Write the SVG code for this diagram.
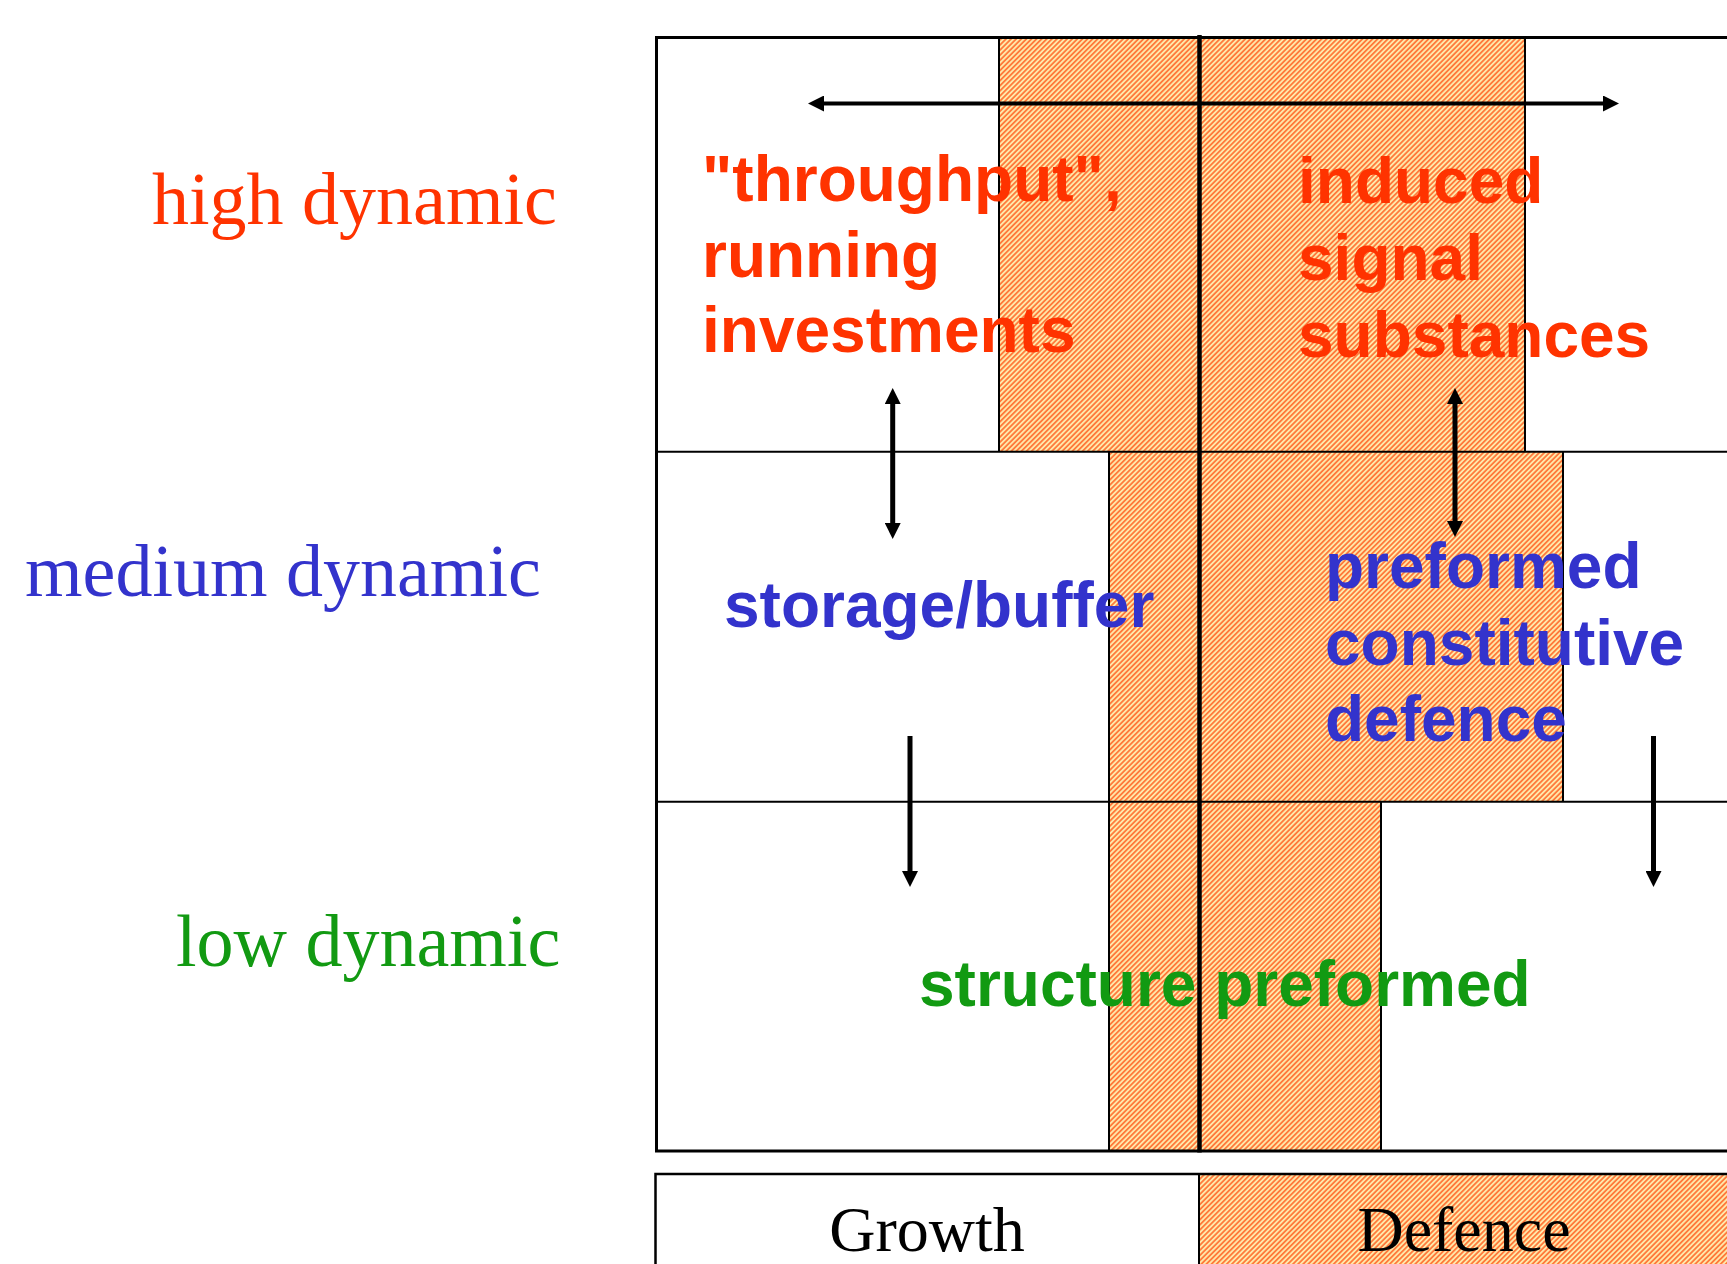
<svg xmlns="http://www.w3.org/2000/svg" width="1727" height="1264" viewBox="0 0 1727 1264">
<defs>
<pattern id="hatch" patternUnits="userSpaceOnUse" width="3.6" height="10" patternTransform="rotate(45)">
<rect width="3.6" height="10" fill="#FFE8AA"/>
<rect width="1.8" height="10" fill="#FF7A3C"/>
</pattern>
<marker id="ah" markerUnits="userSpaceOnUse" markerWidth="16" markerHeight="16" viewBox="0 0 16 16" refX="0" refY="8" orient="auto-start-reverse">
<path d="M0,0 L16,8 L0,16 z" fill="#000"/>
</marker>
<style>
.hatch{fill:url(#hatch);stroke:none}
.thin{stroke:#000;stroke-width:2;fill:none}
.frame{stroke:#000;stroke-width:3;fill:none}
.axis{stroke:#000;stroke-width:4.5}
.arrow{stroke:#000;stroke-width:4;fill:none}
.varrow{stroke:#000;stroke-width:5;fill:none}
.serif{font-family:"Liberation Serif","Times New Roman",serif;font-size:74px}
.legend{font-family:"Liberation Serif","Times New Roman",serif;font-size:64px;fill:#000;text-anchor:middle}
.bold{font-family:"Liberation Sans",Arial,sans-serif;font-size:64px;font-weight:bold}
.red{fill:#FF3300}
.blue{fill:#3333CC}
.green{fill:#129A12}
</style>
</defs>
<rect x="0" y="0" width="1727" height="1264" fill="#fff"/>

<g id="defence-areas">
<rect class="hatch" x="999" y="37.5" width="526" height="414"/>
<rect class="hatch" x="1109" y="451.7" width="454" height="350"/>
<rect class="hatch" x="1109" y="801.7" width="272" height="349.5"/>
</g>

<g id="grid">
<line class="thin" x1="656" y1="451.7" x2="1740" y2="451.7"/>
<line class="thin" x1="656" y1="801.7" x2="1740" y2="801.7"/>
<line class="thin" x1="999" y1="37.5" x2="999" y2="451.7"/>
<line class="thin" x1="1525" y1="37.5" x2="1525" y2="451.7"/>
<line class="thin" x1="1109" y1="451.7" x2="1109" y2="801.7"/>
<line class="thin" x1="1563" y1="451.7" x2="1563" y2="801.7"/>
<line class="thin" x1="1109" y1="801.7" x2="1109" y2="1151"/>
<line class="thin" x1="1381" y1="801.7" x2="1381" y2="1151"/>
<rect class="frame" x="656.5" y="37.5" width="1100" height="1113.5"/>
<line class="axis" x1="1199.5" y1="35" x2="1199.5" y2="1152.5"/>
</g>

<g id="row-labels">
<g id="label-high"><text class="serif red" x="152" y="224">high dynamic</text></g>
<g id="label-medium"><text class="serif blue" x="25" y="596">medium dynamic</text></g>
<g id="label-low"><text class="serif green" x="176" y="966">low dynamic</text></g>
</g>

<g id="node-throughput">
<text class="bold red" x="702" y="201">"throughput",</text>
<text class="bold red" x="702" y="277">running</text>
<text class="bold red" x="702" y="352">investments</text>
</g>
<g id="node-induced">
<text class="bold red" x="1298" y="203">induced</text>
<text class="bold red" x="1298" y="280">signal</text>
<text class="bold red" x="1298" y="357">substances</text>
</g>
<g id="node-storage">
<text class="bold blue" x="724" y="627">storage/buffer</text>
</g>
<g id="node-preformed">
<text class="bold blue" x="1325" y="588">preformed</text>
<text class="bold blue" x="1325" y="665">constitutive</text>
<text class="bold blue" x="1325" y="741">defence</text>
</g>
<g id="node-structure">
<text class="bold green" x="919" y="1006">structure preformed</text>
</g>

<g id="legend">
<rect class="hatch" x="1199" y="1174" width="560" height="100"/>
<rect x="655.5" y="1174" width="1100" height="120" fill="none" stroke="#000" stroke-width="2.5"/>
<line class="thin" x1="1199" y1="1174" x2="1199" y2="1270"/>
<g id="legend-growth"><text class="legend" x="927" y="1251">Growth</text></g>
<g id="legend-defence"><text class="legend" x="1464" y="1251">Defence</text></g>
</g>

<g id="connectors">
<line class="arrow" x1="824" y1="103.5" x2="1603" y2="103.5" marker-start="url(#ah)" marker-end="url(#ah)"/>
<line class="varrow" x1="892.7" y1="404" x2="892.7" y2="523" marker-start="url(#ah)" marker-end="url(#ah)"/>
<line class="varrow" x1="1455" y1="404" x2="1455" y2="521" marker-start="url(#ah)" marker-end="url(#ah)"/>
<line class="varrow" x1="910" y1="736" x2="910" y2="871" marker-end="url(#ah)"/>
<line class="varrow" x1="1653.5" y1="736" x2="1653.5" y2="871" marker-end="url(#ah)"/>
</g>
</svg>
